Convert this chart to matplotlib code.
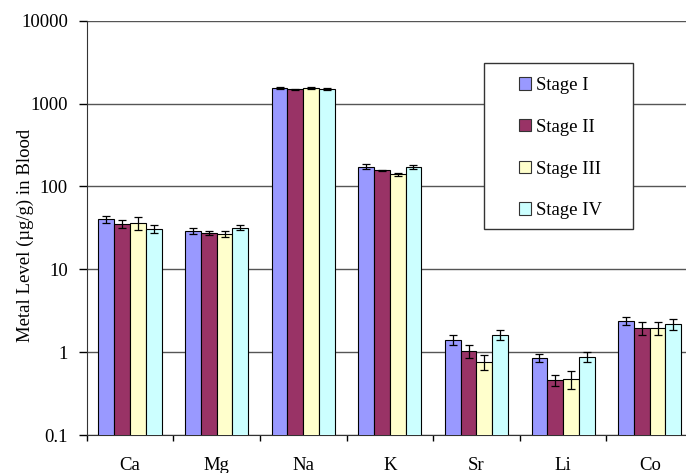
import matplotlib
matplotlib.use("Agg")
import matplotlib.pyplot as plt
from matplotlib.patches import Rectangle
import numpy as np

categories = ["Ca", "Mg", "Na", "K", "Sr", "Li", "Co"]
stages = ["Stage I", "Stage II", "Stage III", "Stage IV"]
stage1 = [40.2, 28.8, 1530, 173, 1.40, 0.86, 2.37]
stage2 = [35.0, 27.3, 1490, 157, 1.03, 0.46, 1.96]
stage3 = [36.0, 26.7, 1530, 140, 0.77, 0.48, 1.95]
stage4 = [30.5, 31.8, 1510, 172, 1.63, 0.88, 2.18]
err1 = [4.0, 2.5, 40, 12, 0.19, 0.10, 0.26]
err2 = [3.9, 1.5, 25, 3, 0.18, 0.07, 0.33]
err3 = [6.3, 2.5, 40, 6, 0.16, 0.12, 0.34]
err4 = [3.4, 2.0, 35, 9, 0.22, 0.13, 0.35]
colors = ["#9999FF", "#993366", "#FFFFCC", "#CCFFFF"]

plt.rcParams['font.family'] = ['Liberation Serif', 'DejaVu Serif']
FS = 13.5

fig = plt.figure(figsize=(6.86, 4.73), dpi=100)
ax = fig.add_axes([86.7/686, 1-435/473, (693-86.7)/686, (435-20.7)/473])

series = [stage1, stage2, stage3, stage4]
errs = [err1, err2, err3, err4]
x = np.arange(len(categories))
w = 0.182
for i, (vals, e) in enumerate(zip(series, errs)):
    pos = x + (i - 1.5) * w
    ax.bar(pos, vals, width=w, color=colors[i], edgecolor="black", linewidth=0.8,
           label=stages[i], zorder=3)
    ax.errorbar(pos, vals, yerr=e, fmt="none", ecolor="black", elinewidth=0.9,
                capsize=3, capthick=0.9, zorder=4)

ax.set_yscale("log")
ax.set_ylim(0.1, 10000)
ax.set_xlim(-0.5, len(categories) - 0.5)
yt = [0.1, 1, 10, 100, 1000, 10000]
ax.set_yticks(yt)
ax.set_yticklabels(["0.1", "1", "10", "100", "1000", "10000"], fontsize=FS)
ax.yaxis.set_minor_locator(matplotlib.ticker.NullLocator())
ax.grid(axis="y", which="major", color="#555555", linewidth=1.0, zorder=0)
ax.set_axisbelow(True)

ax.set_xticks(np.arange(len(categories) + 1) - 0.5)
ax.set_xticklabels([])
ax.set_xticks(x, minor=True)
ax.set_xticklabels(categories, minor=True, fontsize=FS)
ax.tick_params(axis="x", which="major", direction="out", length=4, width=1)
ax.tick_params(axis="x", which="minor", length=0, pad=16)
ax.tick_params(axis="y", which="major", direction="out", length=5.5, width=1, pad=8)

for s in ["top", "right"]:
    ax.spines[s].set_visible(False)
ax.spines["left"].set_color("#333333")
ax.spines["bottom"].set_color("#333333")

ax.set_ylabel("Metal Level (µg/g) in Blood", fontsize=FS)
ax.yaxis.set_label_coords(34/686, 1-235/473, transform=fig.transFigure)

# legend box
box = Rectangle((484/686, 1-229/473), (633-484)/686, (229-62.7)/473,
                transform=fig.transFigure, facecolor="white",
                edgecolor="#333333", linewidth=1.0, zorder=5, clip_on=False)
ax.add_artist(box)
leg = ax.legend(loc="upper left", bbox_to_anchor=(519/686, 1-77/473),
                bbox_transform=fig.transFigure, frameon=False, fontsize=FS,
                handlelength=0.66, handleheight=0.66, handletextpad=0.25,
                labelspacing=1.32, borderpad=0, borderaxespad=0)
leg.set_zorder(6)
for h in leg.legend_handles:
    h.set_edgecolor("#333333")
    h.set_linewidth(0.8)

fig.savefig("out.png", dpi=100)
